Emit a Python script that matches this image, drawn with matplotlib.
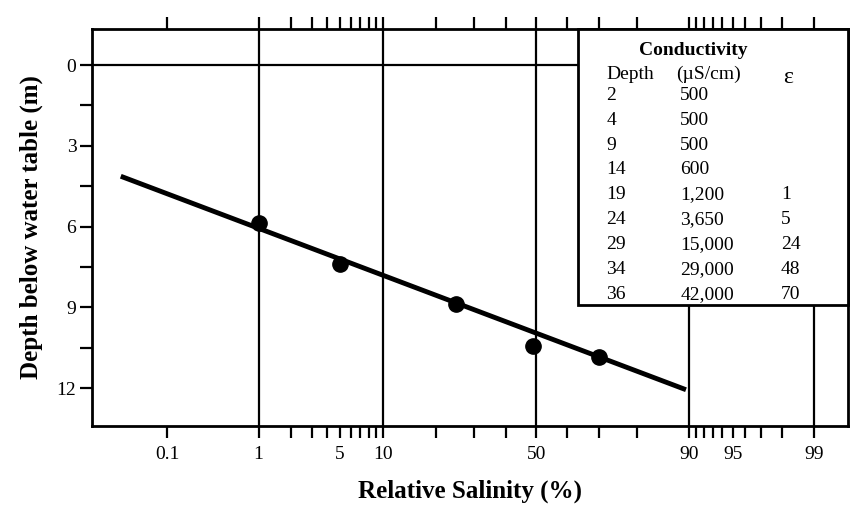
import matplotlib.pyplot as plt
import matplotlib.transforms as mtransforms
from matplotlib.patches import Rectangle
import numpy as np
from statistics import NormalDist

plt.rcParams['font.family'] = ['Liberation Serif', 'DejaVu Serif']

# table values (depth in ft, conductivity uS/cm, relative salinity %)
depth_ft = ['2', '4', '9', '14', '19', '24', '29', '34', '36']
conductivity = ['500', '500', '500', '600', '1,200', '3,650', '15,000', '29,000', '42,000']
epsilon = ['', '', '', '', '1', '5', '24', '48', '70']

# plotted points
salinity = [1, 5, 25, 49, 70]
depth_m = [5.85, 7.40, 8.87, 10.43, 10.85]

# fitted line end points
line_pct = [0.025, 89.5]
line_depth = [4.13, 12.06]

major_ticks = [0.1, 1, 5, 10, 50, 90, 95, 99]
major_labels = ['0.1', '1', '5', '10', '50', '90', '95', '99']
minor_ticks = [2, 3, 4, 6, 7, 8, 9, 20, 30, 40, 60, 70, 80, 91, 92, 93, 94, 96, 97, 98]
grid_x = [1, 10, 50, 90, 99]

nd = NormalDist()
_ppf = np.vectorize(lambda v: nd.inv_cdf(v / 100.0), otypes=[float])
_cdf = np.vectorize(lambda z: nd.cdf(z) * 100.0, otypes=[float])


def probit(p):
    p = np.clip(np.asarray(p, dtype=float), 1e-7, 100 - 1e-7)
    return _ppf(p)


def inv_probit(z):
    return _cdf(np.asarray(z, dtype=float))


fig = plt.figure(figsize=(8.55, 5.13), dpi=100)
ax = fig.add_axes([0.108, 0.170, 0.884, 0.774])
ax.set_xscale('function', functions=(probit, inv_probit))
ax.set_xlim(0.01, 99.55)
ax.set_ylim(13.4, -1.35)

for s in ax.spines.values():
    s.set_linewidth(2.0)

# grid lines
for g in grid_x:
    ax.axvline(g, color='black', lw=1.6, zorder=1)
ax.axhline(0, color='black', lw=1.6, zorder=1)

ax.plot(line_pct, line_depth, color='black', lw=3.5, zorder=2, solid_capstyle='butt')
ax.plot(salinity, depth_m, 'o', color='black', ms=11, zorder=2)

# ticks
ax.set_xticks(major_ticks)
ax.set_xticklabels(major_labels)
ax.set_xticks(minor_ticks, minor=True)
ax.xaxis.set_minor_formatter(plt.NullFormatter())
ax.tick_params(axis='x', which='both', direction='out', top=True, length=8.5,
               width=1.6, labelsize=14, pad=6)
ax.set_yticks([0, 3, 6, 9, 12])
ax.set_yticks([1.5, 4.5, 7.5, 10.5], minor=True)
ax.tick_params(axis='y', which='both', direction='out', length=8.5, width=1.6,
               labelsize=14, pad=3)

ax.set_xlabel('Relative Salinity (%)', fontsize=18, fontweight='bold', labelpad=12)
ax.set_ylabel('Depth below water table (m)', fontsize=18, fontweight='bold', labelpad=10)

# table box
tr = mtransforms.blended_transform_factory(ax.transAxes, ax.transData)
tbl_left = 0.642
tbl_bottom = 8.9
ax.add_patch(Rectangle((tbl_left, -1.35), 1 - tbl_left, tbl_bottom + 1.35,
                       transform=tr, facecolor='white', edgecolor='black',
                       lw=2.0, zorder=3, clip_on=False))

ax.text(0.795, -0.55, 'Conductivity', transform=tr, fontsize=14, fontweight='bold',
        ha='center', va='center', zorder=4)
ax.text(0.680, 0.36, 'Depth', transform=tr, fontsize=14, ha='left', va='center', zorder=4)
ax.text(0.772, 0.36, '(µS/cm)', transform=tr, fontsize=14, ha='left', va='center', zorder=4)
ax.text(0.920, 0.47, 'ε', transform=tr, fontsize=17, ha='center', va='center', zorder=4)

for i in range(len(depth_ft)):
    yy = 1.12 + 0.925 * i
    ax.text(0.680, yy, depth_ft[i], transform=tr, fontsize=14, ha='left', va='center', zorder=4)
    ax.text(0.778, yy, conductivity[i], transform=tr, fontsize=14, ha='left', va='center', zorder=4)
    ax.text(0.911, yy, epsilon[i], transform=tr, fontsize=14, ha='left', va='center', zorder=4)

fig.savefig('out.png', dpi=100)
